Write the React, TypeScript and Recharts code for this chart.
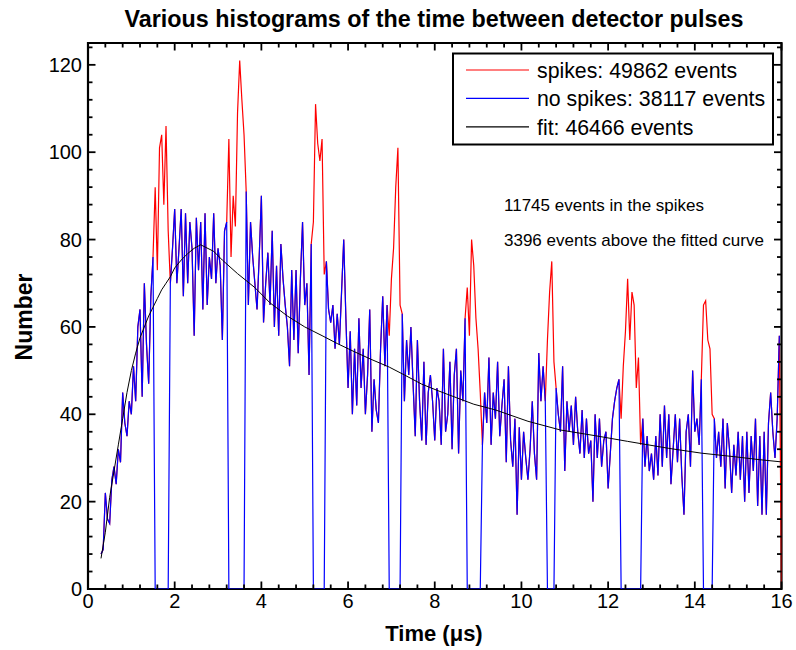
import React from 'react';
import { LineChart, Line, XAxis, YAxis, ReferenceLine, ReferenceArea } from 'recharts';

const FONT = '"Liberation Sans", Arial, Helvetica, sans-serif';

// Histogram bins (µs): first bin centre and bin width
const BIN_START = 0.3;
const BIN_WIDTH = 0.05;

// "spikes" histogram counts, one value per bin (0.30 ... 16.00 µs)
const spikesCounts: number[] = [
  // 0.30 - 0.95
  8, 9, 22, 16, 15, 25, 28, 24, 32, 29, 45, 38, 35, 43,
  // 1.00 - 1.95
  40, 51, 43, 60, 64, 44, 70, 56, 47, 67, 76, 92, 73, 101, 104, 88, 106, 82, 70, 78,
  // 2.00 - 2.95
  87, 70, 78, 87, 67, 86, 70, 84, 78, 58, 85, 73, 84, 64, 86, 65, 76, 71, 86, 70,
  // 3.00 - 3.95
  78, 74, 57, 82, 84, 103, 76, 90, 83, 109, 121, 112, 104, 91, 65, 84, 76, 70, 64, 76,
  // 4.00 - 4.95
  90, 61, 70, 77, 65, 82, 60, 74, 58, 79, 71, 65, 60, 51, 73, 57, 73, 54, 71, 84,
  // 5.00 - 5.95
  65, 70, 49, 79, 84, 111, 102, 98, 103, 72, 75, 64, 61, 65, 55, 63, 56, 68, 80, 62,
  // 6.00 - 6.95
  46, 59, 40, 55, 42, 62, 46, 55, 40, 49, 64, 36, 48, 41, 38, 55, 67, 51, 65, 58,
  // 7.00 - 7.95
  71, 78, 92, 101, 65, 63, 43, 57, 49, 60, 47, 35, 57, 43, 34, 52, 33, 45, 49, 43,
  // 8.00 - 8.95
  34, 46, 43, 33, 55, 36, 40, 52, 32, 49, 55, 31, 50, 43, 62, 69, 58, 80, 74, 62,
  // 9.00 - 9.95
  55, 45, 33, 45, 38, 53, 33, 45, 39, 52, 35, 42, 48, 29, 51, 34, 28, 39, 17, 37,
  // 10.00 - 10.95
  25, 36, 30, 25, 32, 43, 31, 25, 54, 43, 51, 43, 57, 68, 75, 52, 46, 40, 36, 51,
  // 11.00 - 11.95
  27, 43, 36, 42, 33, 44, 36, 31, 41, 30, 39, 31, 34, 20, 40, 30, 39, 28, 34, 36,
  // 12.00 - 12.95
  23, 31, 39, 43, 46, 48, 39, 51, 59, 71, 57, 68, 65, 46, 53, 33, 39, 28, 35, 27,
  // 13.00 - 13.95
  31, 25, 35, 26, 40, 28, 42, 30, 40, 24, 32, 40, 29, 39, 26, 17, 36, 40, 28, 50,
  // 14.00 - 14.95
  36, 39, 33, 48, 65, 66, 57, 55, 40, 39, 30, 36, 28, 39, 23, 38, 32, 22, 33, 26,
  // 15.00 - 15.95
  36, 25, 35, 20, 36, 22, 35, 27, 39, 19, 35, 17, 36, 17, 38, 45, 36, 30, 39, 58,
  // 16.00
  0,
];

// Bins (µs, inclusive) removed from the "no spikes" histogram (drawn at 0)
const spikeWindows: [number, number][] = [
  [1.55, 1.85],
  [3.25, 3.6],
  [5.2, 5.45],
  [6.95, 7.2],
  [8.75, 9.05],
  [10.6, 10.75],
  [12.3, 12.75],
  [14.2, 14.4],
];
// last bin of the "no spikes" histogram
const NO_SPIKES_END = 15.95;

// fitted curve
const fitTimes: number[] = [
  0.3, 0.4, 0.5, 0.6, 0.7, 0.8, 0.9, 1.0, 1.1, 1.2, 1.3, 1.4, 1.5, 1.6, 1.7, 1.8, 1.9, 2.0,
  2.15, 2.3, 2.45, 2.6, 2.7, 2.9, 3.1, 3.45, 3.85, 4.2, 4.6, 5.0, 5.4, 5.75, 6.15, 6.55,
  6.95, 7.3, 7.7, 8.1, 8.5, 8.9, 9.4, 10.15, 10.9, 11.7, 12.45, 13.4, 14.15, 14.9, 15.5, 16.0,
];
const fitValues: number[] = [
  7, 13, 21, 27, 33, 39, 45, 50, 54, 57.5, 60, 62.5, 64.5, 66.5, 68.5, 70, 71.5, 73.5,
  75.3, 76.8, 78, 78.8, 78.3, 77.3, 75.3, 72.2, 69, 65.5, 62.5, 60, 58, 56.2, 54.3, 52.5,
  50.8, 49, 46.9, 45.3, 43.8, 42.3, 41, 38.4, 36.4, 35.1, 33.8, 32.2, 31.1, 30.3, 29.6, 29.1,
];

// axes
const X_DOMAIN: [number, number] = [0, 16];
const Y_DOMAIN: [number, number] = [0, 125];
const xMajorTicks = [0, 2, 4, 6, 8, 10, 12, 14, 16];
const yMajorTicks = [0, 20, 40, 60, 80, 100, 120];
const X_MINOR_STEP = 0.4;
const Y_MINOR_STEP = 4;

const TITLE = 'Various histograms of the time between detector pulses';
const X_LABEL = 'Time (\u03bcs)';
const Y_LABEL = 'Number';
const legendItems = [
  { label: 'spikes: 49862 events', color: '#ff0000' },
  { label: 'no spikes: 38117 events', color: '#0000ff' },
  { label: 'fit: 46466 events', color: '#000000' },
];
const notes = ['11745 events in the spikes', '3396 events above the fitted curve'];

const inWindow = (t: number) => spikeWindows.some(([a, b]) => t >= a - 1e-6 && t <= b + 1e-6);

const histogram = spikesCounts.map((v, i) => {
  const t = +(BIN_START + i * BIN_WIDTH).toFixed(2);
  return {
    t,
    spikes: v,
    noSpikes: t > NO_SPIKES_END + 1e-6 ? null : inWindow(t) ? 0 : v,
  };
});

const fitData = fitTimes.map((t, i) => ({ t, fit: fitValues[i] }));

const range = (a: number, b: number, s: number) => {
  const out: number[] = [];
  for (let k = 0; a + k * s <= b + 1e-9; k++) out.push(+(a + k * s).toFixed(4));
  return out;
};
const xTickMarks = range(X_DOMAIN[0], X_DOMAIN[1], X_MINOR_STEP);
const yTickMarks = range(Y_DOMAIN[0], Y_DOMAIN[1] - 0.5, Y_MINOR_STEP);

// tick lengths in data units (px / scale)
const X_PX = 693.5 / 16;
const Y_PX = 546 / 125;
const MAJ = 7.5;
const MIN = 4.5;

export default function App() {
  const tickEls: React.ReactNode[] = [];
  xTickMarks.forEach((x, i) => {
    const major = xMajorTicks.some((m) => Math.abs(m - x) < 1e-6);
    const len = (major ? MAJ : MIN) / Y_PX;
    tickEls.push(
      <ReferenceLine key={`xb${i}`} segment={[{ x, y: 0 }, { x, y: len }]} stroke="#000" strokeWidth={1.8} ifOverflow="visible" />,
      <ReferenceLine key={`xt${i}`} segment={[{ x, y: 125 }, { x, y: 125 - len }]} stroke="#000" strokeWidth={1.8} ifOverflow="visible" />
    );
  });
  yTickMarks.forEach((y, i) => {
    const major = yMajorTicks.some((m) => Math.abs(m - y) < 1e-6);
    const len = (major ? MAJ : MIN) / X_PX;
    tickEls.push(
      <ReferenceLine key={`yl${i}`} segment={[{ x: 0, y }, { x: len, y }]} stroke="#000" strokeWidth={1.8} ifOverflow="visible" />,
      <ReferenceLine key={`yr${i}`} segment={[{ x: 16, y }, { x: 16 - len, y }]} stroke="#000" strokeWidth={1.8} ifOverflow="visible" />
    );
  });

  const tickStyle = { fill: '#000', fontSize: 20, fontFamily: FONT };

  return (
    <div style={{ position: 'absolute', left: 0, top: 0, width: 796, height: 650, background: '#fff' }}>
      <LineChart width={796} height={650} data={histogram} margin={{ top: 43, right: 14.5, bottom: 0, left: 0 }}>
        <XAxis
          dataKey="t"
          type="number"
          domain={X_DOMAIN}
          ticks={xMajorTicks}
          interval={0}
          allowDataOverflow
          tickLine={false}
          axisLine={false}
          tickSize={0}
          tickMargin={5}
          height={61}
          tick={tickStyle}
        />
        <YAxis
          type="number"
          domain={Y_DOMAIN}
          ticks={yMajorTicks}
          interval={0}
          allowDataOverflow
          tickLine={false}
          axisLine={false}
          tickSize={0}
          tickMargin={6}
          width={88}
          tick={tickStyle}
        />
        <Line dataKey="spikes" type="linear" stroke="#ff0000" strokeWidth={1.2} dot={false} activeDot={false} isAnimationActive={false} />
        <Line dataKey="noSpikes" type="linear" stroke="#0000ff" strokeWidth={1.2} dot={false} activeDot={false} isAnimationActive={false} />
        <Line data={fitData} dataKey="fit" type="linear" stroke="#000000" strokeWidth={1} dot={false} activeDot={false} isAnimationActive={false} />
        <ReferenceArea x1={0} x2={16} y1={0} y2={125} fill="none" fillOpacity={0} stroke="#000" strokeWidth={2.2} ifOverflow="visible" />
        {tickEls}
      </LineChart>
      <svg width={796} height={650} style={{ position: 'absolute', left: 0, top: 0, pointerEvents: 'none' }} fontFamily={FONT}>
        <text x={434} y={27} textAnchor="middle" fontSize={23.3} fontWeight="bold" fill="#000">{TITLE}</text>
        <text x={434} y={641} textAnchor="middle" fontSize={22} fontWeight="bold" fill="#000">{X_LABEL}</text>
        <text x={32} y={317} transform="rotate(-90 32 317)" textAnchor="middle" fontSize={23} fontWeight="bold" fill="#000">{Y_LABEL}</text>
        <rect x={453} y={53.5} width={320} height={91} fill="#fff" stroke="#000" strokeWidth={2} />
        {legendItems.map((it, i) => (
          <g key={it.label}>
            <line x1={466} x2={529} y1={70 + i * 28.4} y2={70 + i * 28.4} stroke={it.color} strokeWidth={1.2} />
            <text x={537} y={78 + i * 28.4} fontSize={21.3} fill="#000">{it.label}</text>
          </g>
        ))}
        {notes.map((n, i) => (
          <text key={n} x={504} y={211 + i * 34.7} fontSize={17} fill="#000">{n}</text>
        ))}
      </svg>
    </div>
  );
}
